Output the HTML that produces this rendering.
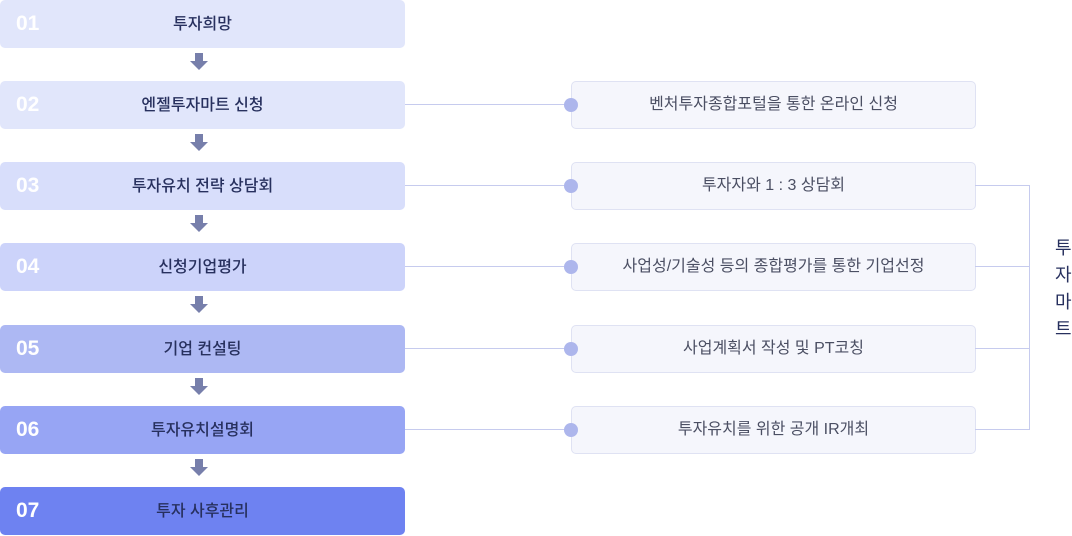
<!DOCTYPE html>
<html><head><meta charset="utf-8"><style>
body{margin:0;width:1072px;height:535px;background:#fff;position:relative;overflow:hidden;font-family:"Liberation Sans","Noto Sans CJK KR",sans-serif}
.step{position:absolute;left:0;width:405px;height:48px;border-radius:5px}
.num{position:absolute;left:16px;top:0;line-height:48px;color:#fff;font-weight:bold;font-size:21px}
.lbl{position:absolute;left:0;top:1px;width:405px;text-align:center;line-height:48px;font-size:16px;font-weight:500;color:#27305e}
.arrow{position:absolute;left:190px;width:18px;height:18px}
.rbox{position:absolute;left:571px;width:403px;height:46px;border:1px solid #dfe2f3;border-radius:5px;background:#f5f6fc;text-align:center;line-height:46px;font-size:16px;color:#4b4f63}
.dot{position:absolute;left:564px;width:14px;height:14px;border-radius:50%;background:#adb6ec}
.hl{position:absolute;height:1px;background:#c6cbee}
.vl{position:absolute;width:1px;background:#c6cbee}
.vt{position:absolute;left:1055px;font-size:18px;color:#27305e;line-height:27px;width:20px}
</style></head><body>
<div id="steps"></div>
<div id="rights"></div>
<div class="vl" style="left:1029px;top:185px;height:244px"></div>
<div class="vt" style="top:235px">투<br>자<br>마<br>트</div>
<script>
const nums=['01','02','03','04','05','06','07'];
const names=['투자희망','엔젤투자마트 신청','투자유치 전략 상담회','신청기업평가','기업 컨설팅','투자유치설명회','투자 사후관리'];
const colors=['#e1e6fb','#e1e6fb','#d8defb','#ccd3fa','#adb8f3','#97a5f4','#6e82f1'];
const tops=[0,81,162,243,325,406,487];
const S=document.getElementById('steps');
nums.forEach((n,i)=>{
 const d=document.createElement('div');d.className='step';d.style.top=tops[i]+'px';d.style.background=colors[i];
 
 
 d.innerHTML='<span class="num">'+n+'</span><span class="lbl">'+names[i]+'</span>';
 S.appendChild(d);
 if(i<6){const a=document.createElement('div');a.className='arrow';a.style.top=(tops[i]+53)+'px';
 
 
 a.innerHTML='<svg width="18" height="20"><rect x="5" y="0" width="8" height="8" fill="#777fab"/><polygon points="0,8 18,8 9,17" fill="#777fab"/></svg>';
 S.appendChild(a);}
});
const rtexts=['벤처투자종합포털을 통한 온라인 신청','투자자와 1 : 3 상담회','사업성/기술성 등의 종합평가를 통한 기업선정','사업계획서 작성 및 PT코칭','투자유치를 위한 공개 IR개최'];
const R=document.getElementById('rights');
rtexts.forEach((t,i)=>{
 const top=tops[i+1];
 const l=document.createElement('div');l.className='hl';l.style.left='405px';l.style.width='166px';l.style.top=(top+23)+'px';
 
 
 R.appendChild(l);
 const b=document.createElement('div');b.className='rbox';b.style.top=top+'px';b.textContent=t;
 
 
 R.appendChild(b);
 const d=document.createElement('div');d.className='dot';d.style.top=(top+17)+'px';
 
 
 R.appendChild(d);
 if(i>0){const h=document.createElement('div');h.className='hl';h.style.left='975px';h.style.width='55px';h.style.top=(top+23)+'px';
 
 
 R.appendChild(h);}
});
</script>
</body></html>
